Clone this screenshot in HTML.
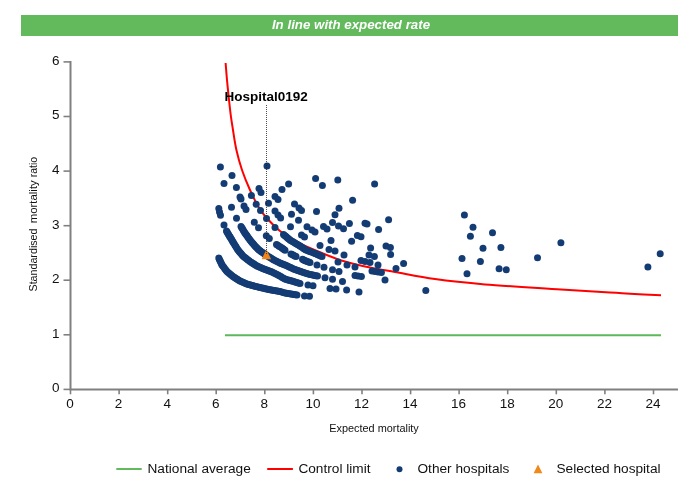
<!DOCTYPE html>
<html><head><meta charset="utf-8"><title>Funnel plot</title>
<style>html,body{margin:0;padding:0;background:#fff;width:700px;height:500px;overflow:hidden}</style></head>
<body>
<svg width="700" height="500" viewBox="0 0 700 500" style="position:absolute;left:0;top:0">
<rect x="21" y="15" width="657" height="21" fill="#62ba5d"/>
<text x="351" y="28.6" text-anchor="middle" font-family="Liberation Sans, Arial, sans-serif" font-size="13.3" font-weight="bold" font-style="italic" fill="#fff">In line with expected rate</text>
<g stroke="#808080" stroke-width="2" fill="none">
<path d="M70.5,61 V389.4 H678"/>
</g><g stroke="#808080" stroke-width="1.6" fill="none">
<path d="M63.5,389.4 H70.5"/>
<path d="M63.5,334.8 H70.5"/>
<path d="M63.5,280.2 H70.5"/>
<path d="M63.5,225.7 H70.5"/>
<path d="M63.5,171.1 H70.5"/>
<path d="M63.5,116.5 H70.5"/>
<path d="M63.5,61.9 H70.5"/>
<path d="M70.5,389 V394.3"/>
<path d="M119.1,389 V394.3"/>
<path d="M167.7,389 V394.3"/>
<path d="M216.2,389 V394.3"/>
<path d="M264.8,389 V394.3"/>
<path d="M313.4,389 V394.3"/>
<path d="M362.0,389 V394.3"/>
<path d="M410.6,389 V394.3"/>
<path d="M459.1,389 V394.3"/>
<path d="M507.7,389 V394.3"/>
<path d="M556.3,389 V394.3"/>
<path d="M604.9,389 V394.3"/>
<path d="M653.5,389 V394.3"/>
</g>
<g font-family="Liberation Sans, Arial, sans-serif" font-size="13.5" fill="#111">
<text x="59.5" y="392.3" text-anchor="end">0</text>
<text x="59.5" y="337.7" text-anchor="end">1</text>
<text x="59.5" y="283.1" text-anchor="end">2</text>
<text x="59.5" y="228.6" text-anchor="end">3</text>
<text x="59.5" y="174.0" text-anchor="end">4</text>
<text x="59.5" y="119.4" text-anchor="end">5</text>
<text x="59.5" y="64.8" text-anchor="end">6</text>
<text x="70.0" y="408.2" text-anchor="middle">0</text>
<text x="118.6" y="408.2" text-anchor="middle">2</text>
<text x="167.2" y="408.2" text-anchor="middle">4</text>
<text x="215.7" y="408.2" text-anchor="middle">6</text>
<text x="264.3" y="408.2" text-anchor="middle">8</text>
<text x="312.9" y="408.2" text-anchor="middle">10</text>
<text x="361.5" y="408.2" text-anchor="middle">12</text>
<text x="410.1" y="408.2" text-anchor="middle">14</text>
<text x="458.6" y="408.2" text-anchor="middle">16</text>
<text x="507.2" y="408.2" text-anchor="middle">18</text>
<text x="555.8" y="408.2" text-anchor="middle">20</text>
<text x="604.4" y="408.2" text-anchor="middle">22</text>
<text x="653.0" y="408.2" text-anchor="middle">24</text>
</g>
<g font-family="Liberation Sans, Arial, sans-serif" font-size="10.9" fill="#111">
<text x="374" y="432" text-anchor="middle">Expected mortality</text>
<text transform="translate(37,291.5) rotate(-90)" font-size="10.7">Standardised</text>
<text transform="translate(37,223.3) rotate(-90)" font-size="11.4">mortality</text>
<text transform="translate(37,177.3) rotate(-90)" font-size="10.5">ratio</text>
</g>
<path d="M225,335.2 H661" stroke="#5cb858" stroke-width="2.1" fill="none"/>
<path d="M225.6,63.0 C225.8,65.8 226.5,74.5 227.0,80.0 C227.5,85.5 228.0,90.3 228.6,96.0 C229.2,101.7 229.9,108.3 230.6,114.0 C231.3,119.7 232.1,124.1 233.0,130.0 C233.9,135.9 234.8,142.8 236.3,149.5 C237.8,156.2 239.7,163.2 242.0,170.0 C244.3,176.8 247.3,184.0 250.0,190.0 C252.7,196.0 255.5,201.7 258.0,206.0 C260.5,210.3 261.3,211.8 265.0,216.0 C268.7,220.2 274.2,226.4 280.0,231.0 C285.8,235.6 292.8,239.8 300.0,243.5 C307.2,247.2 315.5,250.5 323.0,253.5 C330.5,256.5 337.2,259.2 345.0,261.5 C352.8,263.8 361.7,265.8 370.0,267.5 C378.3,269.2 384.2,270.1 395.0,272.0 C405.8,273.9 420.0,276.9 435.0,279.0 C450.0,281.1 464.0,282.6 485.0,284.4 C506.0,286.1 540.2,288.1 561.0,289.5 C581.8,290.9 598.5,291.9 610.0,292.6 C621.5,293.3 621.5,293.2 630.0,293.7 C638.5,294.1 655.8,295.0 661.0,295.3" stroke="#ff0000" stroke-width="2" fill="none" />
<g fill="#143c74">
<circle cx="220.4" cy="167.0" r="3.5"/>
<circle cx="267.0" cy="166.0" r="3.5"/>
<circle cx="232.0" cy="175.6" r="3.5"/>
<circle cx="224.0" cy="183.6" r="3.5"/>
<circle cx="236.4" cy="187.4" r="3.5"/>
<circle cx="288.6" cy="184.0" r="3.5"/>
<circle cx="315.6" cy="178.6" r="3.5"/>
<circle cx="322.4" cy="185.6" r="3.5"/>
<circle cx="337.8" cy="180.0" r="3.5"/>
<circle cx="259.0" cy="188.6" r="3.5"/>
<circle cx="261.0" cy="192.4" r="3.5"/>
<circle cx="282.0" cy="189.4" r="3.5"/>
<circle cx="251.4" cy="195.6" r="3.5"/>
<circle cx="240.0" cy="197.0" r="3.5"/>
<circle cx="241.0" cy="199.0" r="3.5"/>
<circle cx="275.0" cy="196.4" r="3.5"/>
<circle cx="278.0" cy="199.4" r="3.5"/>
<circle cx="218.8" cy="208.6" r="3.5"/>
<circle cx="219.5" cy="212.0" r="3.5"/>
<circle cx="220.5" cy="215.3" r="3.5"/>
<circle cx="231.5" cy="207.3" r="3.5"/>
<circle cx="244.0" cy="206.0" r="3.5"/>
<circle cx="246.0" cy="209.5" r="3.5"/>
<circle cx="256.2" cy="204.2" r="3.5"/>
<circle cx="268.5" cy="203.2" r="3.5"/>
<circle cx="260.5" cy="210.5" r="3.5"/>
<circle cx="266.5" cy="218.5" r="3.5"/>
<circle cx="236.5" cy="218.3" r="3.5"/>
<circle cx="254.3" cy="222.2" r="3.5"/>
<circle cx="258.5" cy="227.8" r="3.5"/>
<circle cx="224.0" cy="225.0" r="3.5"/>
<circle cx="275.0" cy="227.5" r="3.5"/>
<circle cx="275.0" cy="211.0" r="3.5"/>
<circle cx="278.0" cy="215.0" r="3.5"/>
<circle cx="280.6" cy="218.0" r="3.5"/>
<circle cx="266.3" cy="235.7" r="3.5"/>
<circle cx="269.3" cy="238.5" r="3.5"/>
<circle cx="294.5" cy="204.0" r="3.5"/>
<circle cx="299.0" cy="208.0" r="3.5"/>
<circle cx="301.5" cy="210.5" r="3.5"/>
<circle cx="316.5" cy="211.5" r="3.5"/>
<circle cx="339.0" cy="208.2" r="3.5"/>
<circle cx="335.0" cy="214.8" r="3.5"/>
<circle cx="291.5" cy="214.3" r="3.5"/>
<circle cx="298.5" cy="220.3" r="3.5"/>
<circle cx="332.5" cy="222.5" r="3.5"/>
<circle cx="290.5" cy="226.7" r="3.5"/>
<circle cx="307.0" cy="226.8" r="3.5"/>
<circle cx="312.0" cy="230.0" r="3.5"/>
<circle cx="315.0" cy="232.0" r="3.5"/>
<circle cx="323.5" cy="226.5" r="3.5"/>
<circle cx="327.0" cy="229.0" r="3.5"/>
<circle cx="338.5" cy="226.0" r="3.5"/>
<circle cx="343.5" cy="228.7" r="3.5"/>
<circle cx="301.5" cy="235.0" r="3.5"/>
<circle cx="304.5" cy="237.0" r="3.5"/>
<circle cx="331.0" cy="240.5" r="3.5"/>
<circle cx="320.0" cy="245.5" r="3.5"/>
<circle cx="329.0" cy="249.5" r="3.5"/>
<circle cx="335.0" cy="251.0" r="3.5"/>
<circle cx="338.0" cy="262.0" r="3.5"/>
<circle cx="344.0" cy="255.0" r="3.5"/>
<circle cx="330.0" cy="288.5" r="3.5"/>
<circle cx="336.0" cy="289.0" r="3.5"/>
<circle cx="342.5" cy="281.5" r="3.5"/>
<circle cx="317.0" cy="265.0" r="3.5"/>
<circle cx="324.0" cy="267.2" r="3.5"/>
<circle cx="332.5" cy="269.8" r="3.5"/>
<circle cx="339.0" cy="271.5" r="3.5"/>
<circle cx="325.0" cy="277.7" r="3.5"/>
<circle cx="332.5" cy="279.2" r="3.5"/>
<circle cx="308.0" cy="285.0" r="3.5"/>
<circle cx="313.0" cy="285.8" r="3.5"/>
<circle cx="304.5" cy="296.0" r="3.5"/>
<circle cx="309.5" cy="296.2" r="3.5"/>
<circle cx="374.6" cy="184.0" r="3.5"/>
<circle cx="352.6" cy="200.2" r="3.5"/>
<circle cx="464.4" cy="215.0" r="3.5"/>
<circle cx="473.0" cy="227.2" r="3.5"/>
<circle cx="470.4" cy="236.2" r="3.5"/>
<circle cx="388.6" cy="219.8" r="3.5"/>
<circle cx="349.4" cy="223.4" r="3.5"/>
<circle cx="365.0" cy="223.2" r="3.5"/>
<circle cx="367.0" cy="224.0" r="3.5"/>
<circle cx="378.6" cy="229.4" r="3.5"/>
<circle cx="357.4" cy="235.4" r="3.5"/>
<circle cx="361.0" cy="236.8" r="3.5"/>
<circle cx="351.6" cy="241.2" r="3.5"/>
<circle cx="370.6" cy="248.0" r="3.5"/>
<circle cx="386.0" cy="246.0" r="3.5"/>
<circle cx="390.4" cy="247.4" r="3.5"/>
<circle cx="483.0" cy="248.3" r="3.5"/>
<circle cx="462.0" cy="258.6" r="3.5"/>
<circle cx="480.4" cy="261.4" r="3.5"/>
<circle cx="467.0" cy="273.8" r="3.5"/>
<circle cx="425.8" cy="290.6" r="3.5"/>
<circle cx="403.6" cy="263.6" r="3.5"/>
<circle cx="396.0" cy="268.6" r="3.5"/>
<circle cx="390.6" cy="254.4" r="3.5"/>
<circle cx="369.0" cy="255.0" r="3.5"/>
<circle cx="374.4" cy="256.6" r="3.5"/>
<circle cx="361.0" cy="260.6" r="3.5"/>
<circle cx="365.0" cy="261.4" r="3.5"/>
<circle cx="370.0" cy="262.6" r="3.5"/>
<circle cx="378.0" cy="265.0" r="3.5"/>
<circle cx="347.0" cy="265.0" r="3.5"/>
<circle cx="355.0" cy="267.0" r="3.5"/>
<circle cx="372.0" cy="271.0" r="3.5"/>
<circle cx="375.0" cy="271.6" r="3.5"/>
<circle cx="378.0" cy="272.0" r="3.5"/>
<circle cx="381.4" cy="272.6" r="3.5"/>
<circle cx="355.0" cy="275.4" r="3.5"/>
<circle cx="358.0" cy="276.0" r="3.5"/>
<circle cx="361.4" cy="276.4" r="3.5"/>
<circle cx="385.0" cy="280.0" r="3.5"/>
<circle cx="346.6" cy="290.0" r="3.5"/>
<circle cx="359.0" cy="292.0" r="3.5"/>
<circle cx="492.5" cy="232.8" r="3.5"/>
<circle cx="500.9" cy="247.5" r="3.5"/>
<circle cx="499.1" cy="268.8" r="3.5"/>
<circle cx="506.3" cy="269.7" r="3.5"/>
<circle cx="537.5" cy="257.7" r="3.5"/>
<circle cx="560.9" cy="242.7" r="3.5"/>
<circle cx="647.9" cy="267.0" r="3.5"/>
<circle cx="660.2" cy="253.8" r="3.5"/>
<circle cx="218.8" cy="258.0" r="3.5"/>
<circle cx="219.4" cy="259.4" r="3.5"/>
<circle cx="220.1" cy="260.8" r="3.5"/>
<circle cx="220.7" cy="262.2" r="3.5"/>
<circle cx="221.4" cy="263.6" r="3.5"/>
<circle cx="222.0" cy="265.0" r="3.5"/>
<circle cx="223.0" cy="266.3" r="3.5"/>
<circle cx="224.0" cy="267.6" r="3.5"/>
<circle cx="225.0" cy="268.9" r="3.5"/>
<circle cx="226.0" cy="270.2" r="3.5"/>
<circle cx="227.0" cy="271.5" r="3.5"/>
<circle cx="228.2" cy="272.5" r="3.5"/>
<circle cx="229.4" cy="273.5" r="3.5"/>
<circle cx="230.6" cy="274.5" r="3.5"/>
<circle cx="231.8" cy="275.5" r="3.5"/>
<circle cx="233.0" cy="276.5" r="3.5"/>
<circle cx="234.2" cy="277.2" r="3.5"/>
<circle cx="235.3" cy="278.0" r="3.5"/>
<circle cx="236.5" cy="278.8" r="3.5"/>
<circle cx="237.7" cy="279.5" r="3.5"/>
<circle cx="238.8" cy="280.2" r="3.5"/>
<circle cx="240.0" cy="281.0" r="3.5"/>
<circle cx="241.4" cy="281.6" r="3.5"/>
<circle cx="242.8" cy="282.2" r="3.5"/>
<circle cx="244.2" cy="282.8" r="3.5"/>
<circle cx="245.6" cy="283.4" r="3.5"/>
<circle cx="247.0" cy="284.0" r="3.5"/>
<circle cx="248.4" cy="284.4" r="3.5"/>
<circle cx="249.8" cy="284.8" r="3.5"/>
<circle cx="251.2" cy="285.2" r="3.5"/>
<circle cx="252.6" cy="285.6" r="3.5"/>
<circle cx="254.0" cy="286.0" r="3.5"/>
<circle cx="255.6" cy="286.4" r="3.5"/>
<circle cx="257.2" cy="286.8" r="3.5"/>
<circle cx="258.8" cy="287.2" r="3.5"/>
<circle cx="260.4" cy="287.6" r="3.5"/>
<circle cx="262.0" cy="288.0" r="3.5"/>
<circle cx="263.6" cy="288.3" r="3.5"/>
<circle cx="265.2" cy="288.7" r="3.5"/>
<circle cx="266.8" cy="289.0" r="3.5"/>
<circle cx="268.4" cy="289.4" r="3.5"/>
<circle cx="270.0" cy="289.7" r="3.5"/>
<circle cx="271.4" cy="290.0" r="3.5"/>
<circle cx="272.9" cy="290.2" r="3.5"/>
<circle cx="274.3" cy="290.5" r="3.5"/>
<circle cx="275.7" cy="290.7" r="3.5"/>
<circle cx="277.1" cy="291.0" r="3.5"/>
<circle cx="278.6" cy="291.2" r="3.5"/>
<circle cx="280.0" cy="291.5" r="3.5"/>
<circle cx="281.7" cy="292.0" r="3.5"/>
<circle cx="283.3" cy="292.5" r="3.5"/>
<circle cx="285.0" cy="293.0" r="3.5"/>
<circle cx="286.5" cy="293.2" r="3.5"/>
<circle cx="288.0" cy="293.5" r="3.5"/>
<circle cx="289.5" cy="293.8" r="3.5"/>
<circle cx="291.0" cy="294.0" r="3.5"/>
<circle cx="292.5" cy="294.2" r="3.5"/>
<circle cx="294.0" cy="294.5" r="3.5"/>
<circle cx="295.5" cy="294.8" r="3.5"/>
<circle cx="297.0" cy="295.0" r="3.5"/>
<circle cx="226.5" cy="231.0" r="3.5"/>
<circle cx="227.2" cy="232.2" r="3.5"/>
<circle cx="227.9" cy="233.4" r="3.5"/>
<circle cx="228.7" cy="234.7" r="3.5"/>
<circle cx="229.4" cy="235.9" r="3.5"/>
<circle cx="230.1" cy="237.1" r="3.5"/>
<circle cx="230.8" cy="238.3" r="3.5"/>
<circle cx="231.6" cy="239.6" r="3.5"/>
<circle cx="232.3" cy="240.8" r="3.5"/>
<circle cx="233.0" cy="242.0" r="3.5"/>
<circle cx="233.8" cy="243.3" r="3.5"/>
<circle cx="234.7" cy="244.7" r="3.5"/>
<circle cx="235.5" cy="246.0" r="3.5"/>
<circle cx="236.3" cy="247.3" r="3.5"/>
<circle cx="237.2" cy="248.7" r="3.5"/>
<circle cx="238.0" cy="250.0" r="3.5"/>
<circle cx="239.0" cy="251.2" r="3.5"/>
<circle cx="240.0" cy="252.4" r="3.5"/>
<circle cx="241.0" cy="253.6" r="3.5"/>
<circle cx="242.0" cy="254.8" r="3.5"/>
<circle cx="243.0" cy="256.0" r="3.5"/>
<circle cx="244.2" cy="256.9" r="3.5"/>
<circle cx="245.3" cy="257.8" r="3.5"/>
<circle cx="246.5" cy="258.8" r="3.5"/>
<circle cx="247.7" cy="259.7" r="3.5"/>
<circle cx="248.8" cy="260.6" r="3.5"/>
<circle cx="250.0" cy="261.5" r="3.5"/>
<circle cx="251.2" cy="262.2" r="3.5"/>
<circle cx="252.3" cy="263.0" r="3.5"/>
<circle cx="253.5" cy="263.8" r="3.5"/>
<circle cx="254.7" cy="264.5" r="3.5"/>
<circle cx="255.8" cy="265.2" r="3.5"/>
<circle cx="257.0" cy="266.0" r="3.5"/>
<circle cx="258.4" cy="266.6" r="3.5"/>
<circle cx="259.8" cy="267.2" r="3.5"/>
<circle cx="261.2" cy="267.8" r="3.5"/>
<circle cx="262.6" cy="268.4" r="3.5"/>
<circle cx="264.0" cy="269.0" r="3.5"/>
<circle cx="265.3" cy="269.5" r="3.5"/>
<circle cx="266.7" cy="270.0" r="3.5"/>
<circle cx="268.0" cy="270.5" r="3.5"/>
<circle cx="269.3" cy="271.0" r="3.5"/>
<circle cx="270.7" cy="271.5" r="3.5"/>
<circle cx="272.0" cy="272.0" r="3.5"/>
<circle cx="273.5" cy="272.8" r="3.5"/>
<circle cx="275.0" cy="273.5" r="3.5"/>
<circle cx="276.5" cy="274.2" r="3.5"/>
<circle cx="278.0" cy="275.0" r="3.5"/>
<circle cx="279.4" cy="275.8" r="3.5"/>
<circle cx="280.8" cy="276.6" r="3.5"/>
<circle cx="282.2" cy="277.4" r="3.5"/>
<circle cx="283.6" cy="278.2" r="3.5"/>
<circle cx="285.0" cy="279.0" r="3.5"/>
<circle cx="286.4" cy="279.4" r="3.5"/>
<circle cx="287.9" cy="279.9" r="3.5"/>
<circle cx="289.3" cy="280.3" r="3.5"/>
<circle cx="290.7" cy="280.7" r="3.5"/>
<circle cx="292.1" cy="281.1" r="3.5"/>
<circle cx="293.6" cy="281.6" r="3.5"/>
<circle cx="295.0" cy="282.0" r="3.5"/>
<circle cx="296.7" cy="282.5" r="3.5"/>
<circle cx="298.3" cy="283.0" r="3.5"/>
<circle cx="300.0" cy="283.5" r="3.5"/>
<circle cx="241.0" cy="226.5" r="3.5"/>
<circle cx="241.8" cy="227.8" r="3.5"/>
<circle cx="242.6" cy="229.1" r="3.5"/>
<circle cx="243.4" cy="230.4" r="3.5"/>
<circle cx="244.2" cy="231.7" r="3.5"/>
<circle cx="245.0" cy="233.0" r="3.5"/>
<circle cx="245.8" cy="234.2" r="3.5"/>
<circle cx="246.7" cy="235.3" r="3.5"/>
<circle cx="247.5" cy="236.5" r="3.5"/>
<circle cx="248.3" cy="237.7" r="3.5"/>
<circle cx="249.2" cy="238.8" r="3.5"/>
<circle cx="250.0" cy="240.0" r="3.5"/>
<circle cx="251.0" cy="241.2" r="3.5"/>
<circle cx="252.0" cy="242.4" r="3.5"/>
<circle cx="253.0" cy="243.6" r="3.5"/>
<circle cx="254.0" cy="244.8" r="3.5"/>
<circle cx="255.0" cy="246.0" r="3.5"/>
<circle cx="256.0" cy="247.0" r="3.5"/>
<circle cx="257.0" cy="248.0" r="3.5"/>
<circle cx="258.0" cy="249.0" r="3.5"/>
<circle cx="259.0" cy="250.0" r="3.5"/>
<circle cx="260.2" cy="250.8" r="3.5"/>
<circle cx="261.3" cy="251.7" r="3.5"/>
<circle cx="262.5" cy="252.5" r="3.5"/>
<circle cx="263.7" cy="253.3" r="3.5"/>
<circle cx="264.8" cy="254.2" r="3.5"/>
<circle cx="266.0" cy="255.0" r="3.5"/>
<circle cx="267.3" cy="255.8" r="3.5"/>
<circle cx="268.7" cy="256.7" r="3.5"/>
<circle cx="270.0" cy="257.5" r="3.5"/>
<circle cx="271.3" cy="258.3" r="3.5"/>
<circle cx="272.7" cy="259.2" r="3.5"/>
<circle cx="274.0" cy="260.0" r="3.5"/>
<circle cx="275.5" cy="260.8" r="3.5"/>
<circle cx="277.0" cy="261.5" r="3.5"/>
<circle cx="278.5" cy="262.2" r="3.5"/>
<circle cx="280.0" cy="263.0" r="3.5"/>
<circle cx="281.2" cy="263.5" r="3.5"/>
<circle cx="282.5" cy="264.0" r="3.5"/>
<circle cx="283.8" cy="264.5" r="3.5"/>
<circle cx="285.0" cy="265.0" r="3.5"/>
<circle cx="286.4" cy="265.6" r="3.5"/>
<circle cx="287.9" cy="266.3" r="3.5"/>
<circle cx="289.3" cy="266.9" r="3.5"/>
<circle cx="290.7" cy="267.6" r="3.5"/>
<circle cx="292.1" cy="268.2" r="3.5"/>
<circle cx="293.6" cy="268.9" r="3.5"/>
<circle cx="295.0" cy="269.5" r="3.5"/>
<circle cx="296.4" cy="270.0" r="3.5"/>
<circle cx="297.9" cy="270.5" r="3.5"/>
<circle cx="299.3" cy="271.0" r="3.5"/>
<circle cx="300.7" cy="271.5" r="3.5"/>
<circle cx="302.1" cy="272.0" r="3.5"/>
<circle cx="303.6" cy="272.5" r="3.5"/>
<circle cx="305.0" cy="273.0" r="3.5"/>
<circle cx="306.7" cy="273.5" r="3.5"/>
<circle cx="308.3" cy="274.0" r="3.5"/>
<circle cx="310.0" cy="274.5" r="3.5"/>
<circle cx="311.5" cy="274.8" r="3.5"/>
<circle cx="313.0" cy="275.1" r="3.5"/>
<circle cx="314.5" cy="275.4" r="3.5"/>
<circle cx="316.0" cy="275.7" r="3.5"/>
<circle cx="317.5" cy="276.0" r="3.5"/>
<circle cx="276.5" cy="244.5" r="3.5"/>
<circle cx="277.8" cy="245.3" r="3.5"/>
<circle cx="279.0" cy="246.2" r="3.5"/>
<circle cx="280.5" cy="247.1" r="3.5"/>
<circle cx="282.0" cy="248.0" r="3.5"/>
<circle cx="283.0" cy="248.8" r="3.5"/>
<circle cx="284.0" cy="249.5" r="3.5"/>
<circle cx="285.0" cy="250.3" r="3.5"/>
<circle cx="291.0" cy="254.0" r="3.5"/>
<circle cx="292.2" cy="254.6" r="3.5"/>
<circle cx="293.5" cy="255.2" r="3.5"/>
<circle cx="294.8" cy="255.9" r="3.5"/>
<circle cx="296.0" cy="256.5" r="3.5"/>
<circle cx="302.5" cy="259.3" r="3.5"/>
<circle cx="303.7" cy="259.9" r="3.5"/>
<circle cx="304.8" cy="260.4" r="3.5"/>
<circle cx="306.0" cy="261.0" r="3.5"/>
<circle cx="307.3" cy="261.5" r="3.5"/>
<circle cx="308.7" cy="262.0" r="3.5"/>
<circle cx="310.0" cy="262.5" r="3.5"/>
<circle cx="283.5" cy="234.5" r="3.5"/>
<circle cx="284.6" cy="235.4" r="3.5"/>
<circle cx="285.7" cy="236.3" r="3.5"/>
<circle cx="286.8" cy="237.2" r="3.5"/>
<circle cx="287.8" cy="238.2" r="3.5"/>
<circle cx="288.9" cy="239.1" r="3.5"/>
<circle cx="290.0" cy="240.0" r="3.5"/>
<circle cx="291.2" cy="240.8" r="3.5"/>
<circle cx="292.5" cy="241.5" r="3.5"/>
<circle cx="293.8" cy="242.2" r="3.5"/>
<circle cx="295.0" cy="243.0" r="3.5"/>
<circle cx="296.2" cy="243.8" r="3.5"/>
<circle cx="297.5" cy="244.5" r="3.5"/>
<circle cx="298.8" cy="245.2" r="3.5"/>
<circle cx="300.0" cy="246.0" r="3.5"/>
<circle cx="301.2" cy="246.8" r="3.5"/>
<circle cx="302.4" cy="247.6" r="3.5"/>
<circle cx="303.6" cy="248.4" r="3.5"/>
<circle cx="304.8" cy="249.2" r="3.5"/>
<circle cx="306.0" cy="250.0" r="3.5"/>
<circle cx="307.5" cy="250.6" r="3.5"/>
<circle cx="309.0" cy="251.2" r="3.5"/>
<circle cx="310.5" cy="251.8" r="3.5"/>
<circle cx="312.0" cy="252.3" r="3.5"/>
<circle cx="313.5" cy="252.9" r="3.5"/>
<circle cx="315.0" cy="253.5" r="3.5"/>
<circle cx="316.4" cy="254.1" r="3.5"/>
<circle cx="317.8" cy="254.7" r="3.5"/>
<circle cx="319.2" cy="255.3" r="3.5"/>
<circle cx="320.6" cy="255.9" r="3.5"/>
<circle cx="322.0" cy="256.5" r="3.5"/>
</g>
<path d="M266.4,249.4 L271.1,259.2 H261.7 Z" fill="#f0861a"/>
<path d="M266.5,105 V255" stroke="#222" stroke-width="0.8" stroke-dasharray="1,1" fill="none"/>
<text x="224.5" y="101" font-family="Liberation Sans, Arial, sans-serif" font-size="13.5" font-weight="bold" fill="#000">Hospital0192</text>
<path d="M116.3,469 H141.7" stroke="#62ba5d" stroke-width="2"/>
<path d="M267.2,469 H292.9" stroke="#ff0000" stroke-width="2"/>
<circle cx="399.5" cy="469.3" r="3" fill="#143c74"/>
<path d="M538,464.5 L542.4,473.3 H533.6 Z" fill="#f0881a"/>
<g font-family="Liberation Sans, Arial, sans-serif" font-size="13.67" fill="#111">
<text x="147.5" y="472.6">National average</text>
<text x="298.4" y="472.6">Control limit</text>
<text x="417.5" y="472.6">Other hospitals</text>
<text x="556.5" y="472.6">Selected hospital</text>
</g>
</svg>
</body></html>
